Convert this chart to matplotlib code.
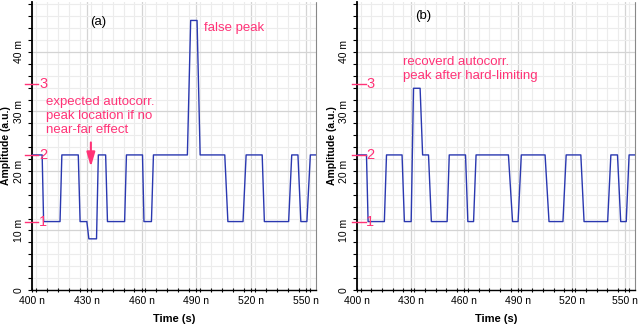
import numpy as np
import matplotlib
matplotlib.use("Agg")
import matplotlib.pyplot as plt
from matplotlib.ticker import MultipleLocator

plt.rcParams['font.family'] = ['Liberation Sans', 'DejaVu Sans']

# ---------------- data (times in ns, amplitudes in m a.u.) ----------------
HI, LO, DIP, PEAK_A, PEAK_B = 22.7, 11.5, 8.6, 45.3, 33.9

a_start = [400, 406.2, 416.2, 426.2, 431.0, 436.2, 441.2, 451.6, 461.2, 466.4,
           486.8, 492.0, 507.2, 517.2, 527.2, 542.2, 547.2, 552.4]
a_end = [405.4, 415.2, 425.2, 429.9, 435.2, 440.2, 450.6, 460.4, 465.3, 485.0,
         490.3, 505.5, 515.5, 526.0, 540.5, 545.6, 550.5, 555.5]
a_level = [HI, LO, HI, LO, DIP, HI, LO, HI, LO, HI,
           PEAK_A, HI, LO, HI, LO, HI, LO, HI]

b_start = [400, 406.2, 416.5, 426.5, 431.6, 436.7, 441.6, 451.6, 462.0, 466.6,
           487.0, 491.9, 507.4, 517.0, 527.0, 542.0, 547.5, 552.2]
b_end = [405.3, 415.3, 425.2, 430.3, 435.3, 440.0, 450.4, 460.7, 465.2, 484.7,
         490.1, 505.2, 515.2, 525.2, 540.2, 545.7, 550.6, 555.5]
b_level = [HI, LO, HI, LO, PEAK_B, HI, LO, HI, LO, HI,
           LO, HI, LO, HI, LO, HI, LO, HI]

marker_levels = [11.4, 22.7, 34.6]
marker_names = ['1', '2', '3']

x_ticks = [400, 430, 460, 490, 520, 550]
x_labels = ['400 n', '430 n', '460 n', '490 n', '520 n', '550 n']
y_ticks = [0, 10, 20, 30, 40]
y_labels = ['0', '10 m', '20 m', '30 m', '40 m']

PINK = '#ff3377'
BLUE = '#2a38b0'


def polyline(starts, ends, levels):
    xs, ys = [], []
    for s, e, v in zip(starts, ends, levels):
        xs += [s, e]
        ys += [v, v]
    return np.array(xs), np.array(ys)


fig = plt.figure(figsize=(6.41, 3.26), dpi=100)
W, H = 641, 326


def make_ax(left_px, right_px):
    ax = fig.add_axes([left_px / W, (H - 290) / H, (right_px - left_px) / W, (290 - 2) / H])
    ax.set_xlim(400, 555.5)
    ax.set_ylim(0, 48.4)
    ax.xaxis.set_minor_locator(MultipleLocator(6))
    ax.yaxis.set_minor_locator(MultipleLocator(2))
    ax.set_xticks(x_ticks)
    ax.set_xticklabels(x_labels, fontsize=7.5)
    ax.set_yticks(y_ticks)
    ax.set_yticklabels(y_labels, fontsize=7.5, rotation=90, va='center')
    ax.grid(which='minor', color='#ececec', lw=0.8)
    ax.grid(which='major', color='#d4d4d4', lw=0.9)
    ax.set_axisbelow(True)
    ax.spines['top'].set_visible(False)
    ax.spines['right'].set_linestyle((0, (1, 1)))
    ax.spines['right'].set_color('#888888')
    ax.spines['right'].set_linewidth(0.8)
    ax.spines['bottom'].set_linestyle((0, (1, 1)))
    ax.spines['bottom'].set_linewidth(1.0)
    ax.spines['left'].set_linewidth(1.3)
    ax.tick_params(axis='x', which='both', direction='inout', length=3, width=0.8, pad=3)
    ax.tick_params(axis='y', which='both', direction='out', length=3, width=0.8, pad=3)
    ax.set_xlabel('Time (s)', fontsize=8, fontweight='bold')
    ax.xaxis.set_label_coords(0.5, -0.082)
    ax.set_ylabel('Amplitude (a.u.)', fontsize=7.5, fontweight='bold')
    return ax


def markers(ax, x0, x1, xt):
    for lv, nm in zip(marker_levels, marker_names):
        ax.plot([x0, x1], [lv, lv], color=PINK, lw=1.0, clip_on=False, zorder=5)
        ax.text(xt, lv, nm, color=PINK, fontsize=10.5, ha='center', va='center',
                clip_on=False, zorder=5)


# ---------- panel (a) ----------
axa = make_ax(32.3, 316)
axa.yaxis.set_label_coords(-0.075, 0.5)
xa, ya = polyline(a_start, a_end, a_level)
axa.plot(xa, ya, color=BLUE, lw=1.0, zorder=3)
markers(axa, 396.0, 403.2, 406.0)
axa.text(436, 45.0, '(a)', fontsize=9.5, ha='center', va='center')
axa.text(494, 44.0, 'false peak', fontsize=9.5, color=PINK, ha='left', va='center')
axa.text(407.5, 29.2, 'expected autocorr.\npeak location if no\nnear-far effect',
         fontsize=9.5, color=PINK, ha='left', va='center', linespacing=1.2)
axa.annotate('', xy=(432.1, 20.7), xytext=(432.1, 24.8),
             arrowprops=dict(arrowstyle='-|>,head_length=0.85,head_width=0.25',
                             color=PINK, lw=1.5, shrinkA=0, shrinkB=0),
             zorder=6)

# ---------- panel (b) ----------
axb = make_ax(357, 635)
axb.yaxis.set_label_coords(-0.072, 0.5)
xb, yb = polyline(b_start, b_end, b_level)
axb.plot(xb, yb, color=BLUE, lw=1.0, zorder=3)
markers(axb, 397.3, 405.0, 407.5)
axb.text(437, 46.0, '(b)', fontsize=9.5, ha='center', va='center')
axb.text(425.6, 37.1, 'recoverd autocorr.\npeak after hard-limiting',
         fontsize=9.5, color=PINK, ha='left', va='center', linespacing=1.2)

fig.savefig('out.png', dpi=100)
